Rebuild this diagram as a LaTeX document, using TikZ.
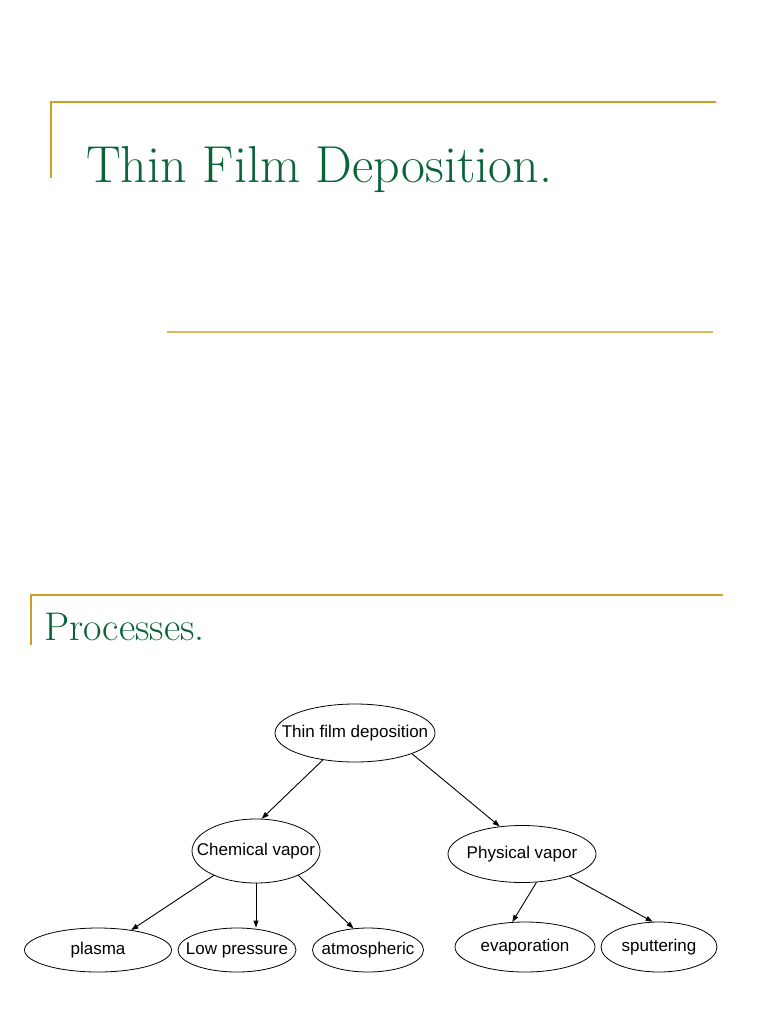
\documentclass[tikz,border=0pt]{standalone}
\usepackage{fontspec}
\newfontfamily\arialf{Liberation Sans}
\usetikzlibrary{shapes.geometric,arrows.meta}
\definecolor{goldline}{RGB}{204,160,40}
\definecolor{goldpale}{RGB}{218,185,95}
\definecolor{titlegreen}{RGB}{10,100,55}
\newcommand{\ovtxt}[1]{\makebox[0pt]{#1}}
\tikzset{
  oval/.style={ellipse, draw=black, line width=0.8pt, inner sep=0pt, font=\arialf\fontsize{17}{19}\selectfont},
  conn/.style={-{Triangle[length=7pt,width=5pt]}, line width=0.9pt, black},
  frameline/.style={goldline, line width=2pt},
  titletext/.style={anchor=base west, inner sep=0pt, text=titlegreen}
}
\begin{document}
\begin{tikzpicture}[x=1pt,y=-1pt]
\useasboundingbox (0,0) rectangle (768,1024);
% top slide frame
\coordinate (tl) at (51,102);
\coordinate (tr) at (716,102);
\coordinate (tv) at (51,178);
\draw[frameline] (tv) -- (tl) -- (tr);
\coordinate (ml) at (167,332);
\coordinate (mr) at (713,332);
\draw[goldpale, line width=1.5pt] (ml) -- (mr);
\node[titletext] (title) at (86,183) {\fontsize{52}{56}\selectfont Thin Film Deposition.};
% second slide frame
\coordinate (bl) at (31,595);
\coordinate (br) at (723,595);
\coordinate (bv) at (31,645);
\draw[frameline] (bv) -- (bl) -- (br);
\node[titletext] (proc) at (44,640) {\fontsize{40}{44}\selectfont Processes.};
% tree
\node[oval, minimum width=160pt, minimum height=58pt] (root) at (355,733) {\ovtxt{Thin film deposition}};
\node[oval, minimum width=128pt, minimum height=64pt] (cvd) at (256,851) {\ovtxt{Chemical vapor}};
\node[oval, minimum width=148pt, minimum height=57pt] (pvd) at (522,854) {\ovtxt{Physical vapor}};
\node[oval, minimum width=147pt, minimum height=44pt] (plasma) at (98,950) {\ovtxt{plasma}};
\node[oval, minimum width=118pt, minimum height=44pt] (lowp) at (237,950) {\ovtxt{Low pressure}};
\node[oval, minimum width=111pt, minimum height=44pt] (atm) at (368,950) {\ovtxt{atmospheric}};
\node[oval, minimum width=140pt, minimum height=50pt] (evap) at (525,947) {\ovtxt{evaporation}};
\node[oval, minimum width=116pt, minimum height=50pt] (sput) at (659,947) {\ovtxt{sputtering}};
\draw[conn] (root.-140) -- (cvd.80);
\draw[conn] (root.-20) -- (pvd.129);
\draw[conn] (cvd.-150) -- (plasma.31);
\draw[conn] (cvd.south) -- (lowp.north -| cvd.south);
\draw[conn] (cvd.-30) -- (atm.124);
\draw[conn] (pvd.-63) -- (evap.117);
\draw[conn] (pvd.-25) -- (sput.104);
\end{tikzpicture}
\end{document}
